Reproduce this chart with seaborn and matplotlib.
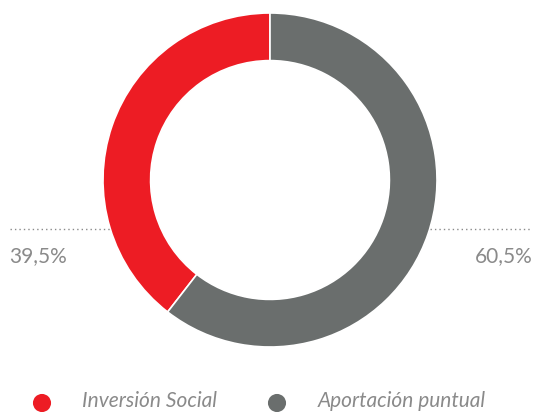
import matplotlib
matplotlib.use("Agg")
import matplotlib.pyplot as plt
import seaborn as sns
import pandas as pd

categories = ["Inversión Social", "Aportación puntual"]
shares = [39.5, 60.5]
colors = ["#ED1C24", "#6A6E6D"]
value_labels = ["39,5%", "60,5%"]

sns.set_theme(style="white")
plt.rcParams["font.family"] = ["Lato", "DejaVu Sans"]

W, H = 540, 412
fig = plt.figure(figsize=(W / 100, H / 100), dpi=100)
ax = fig.add_axes([0, 0, 1, 1])


def frame(a):
    a.set_xlim(0, W)
    a.set_ylim(H, 0)
    a.set_aspect("equal")
    a.axis("off")


# Donut ring (y axis points down, so angles are mirrored):
# red slice runs anticlockwise on screen from 12 o'clock
cx, cy, r = 270, 180, 167
ax.pie(shares, colors=colors, startangle=-90, counterclock=False,
       center=(cx, cy), radius=r, frame=True,
       wedgeprops=dict(width=r * 0.285, edgecolor="white", linewidth=1.2))

# Dotted leaders and value labels
txt = "#8a8a8a"
ax.plot([10, 110], [229, 229], color="#8a8a8a", lw=1, ls=(0, (1, 2.2)))
ax.plot([430, 530], [229, 229], color="#8a8a8a", lw=1, ls=(0, (1, 2.2)))
ax.text(9, 256, value_labels[0], ha="left", va="center", fontsize=15,
        color=txt)
ax.text(533, 256, value_labels[1], ha="right", va="center", fontsize=15,
        color=txt)

# Legend
legend = pd.DataFrame({"x": [42, 277], "y": [403, 403], "cat": categories})
sns.scatterplot(data=legend, x="x", y="y", hue="cat", palette=colors,
                s=170, edgecolor="none", legend=False, ax=ax)
for xt, label in zip([82, 318], categories):
    ax.text(xt, 401, label, ha="left", va="center", fontsize=15,
            style="italic", color=txt)
frame(ax)

fig.savefig("out.png", dpi=100, facecolor="white")
